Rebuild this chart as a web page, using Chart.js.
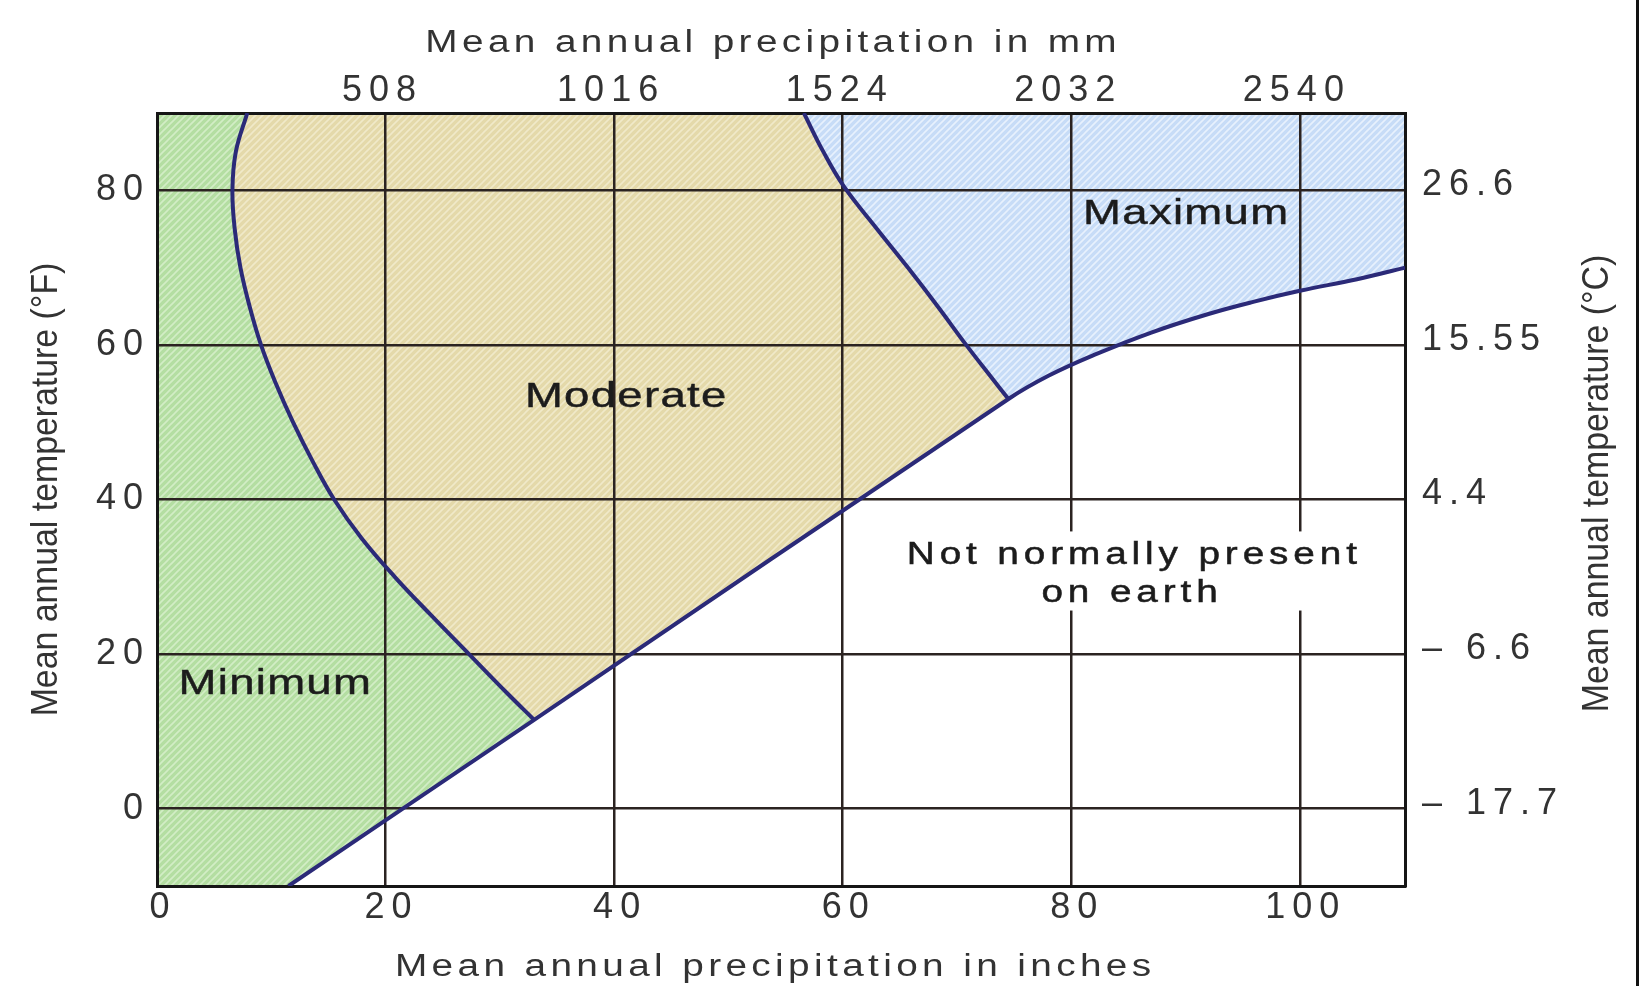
<!DOCTYPE html>
<html>
<head>
<meta charset="utf-8">
<script src="https://cdn.jsdelivr.net/npm/chart.js@4.4.0/dist/chart.umd.min.js"></script>
<style>
  html, body { margin: 0; padding: 0; background: #fff; }
  #wrap { position: relative; width: 1641px; height: 986px; }
  #edge { position: absolute; left: 1636px; top: 0; width: 3px; height: 986px; background: #111; }
</style>
</head>
<body>
<div id="wrap"><canvas id="chart"></canvas><div id="edge"></div></div>
<script>
// ticks: inches / °F, plus the secondary mm / °C labels
const inchTicks = [0, 20, 40, 60, 80, 100];
const mmTicks = [20, 40, 60, 80, 100];
const mmLabels = ['508', '1016', '1524', '2032', '2540'];
const fTicks = [0, 20, 40, 60, 80];
const cLabels = ['\u2013 17.7', '\u2013 6.6', '4.4', '15.55', '26.6'];

const X_MIN = 0, X_MAX = 109.2, Y_MIN = -10, Y_MAX = 90;

// Minimum / Moderate boundary, top to bottom
const minModX = [7.9, 6.9, 6.6, 6.8, 7.3, 8.1, 9.1, 10.4, 11.9, 13.6, 15.5, 17.9, 20.8, 24.0, 27.3, 30.6, 33.0];
const minModY = [90, 85, 80, 75, 70, 65, 60, 55, 50, 45, 40, 35, 30, 25, 20, 15, 11.5];
// lower limit, left to right
const lowerX = [11.5, 33.0, 74.5, 78, 82, 87, 92, 96, 100, 105, 109.2];
const lowerY = [-10, 11.5, 53, 56, 58.7, 61.6, 64, 65.6, 67, 68.5, 70];
// Moderate / Maximum boundary, top to bottom
const modMaxX = [56.6, 58.3, 60.1, 63.0, 65.7, 68.3, 70.8, 72.9, 74.5];
const modMaxY = [90, 85, 80.5, 75, 70, 65, 60, 56, 53];

// zone names and where they sit (centre x, baseline y)
const zoneNames = ['Minimum', 'Moderate', 'Maximum'];
const zoneX = [10.3, 41.0, 90.0];
const zoneY = [14.9, 52.0, 75.6];
const noteLines = ['Not normally present', 'on earth'];
const noteX = [85.3, 85.1];
const noteY = [31.6, 26.8];

const pts = (xs, ys) => xs.map((x, i) => ({ x: x, y: ys[i] }));
const minMod = pts(minModX, minModY);
const lower = pts(lowerX, lowerY);
const modMax = pts(modMaxX, modMaxY);

const minimumZone = [{ x: X_MIN, y: Y_MAX }, ...minMod, ...lower.slice(0, 2).reverse(), { x: X_MIN, y: Y_MIN }];
const moderateZone = [...minMod, ...lower.slice(1, 3), ...modMax.slice().reverse()];
const maximumZone = [...modMax, ...lower.slice(2), { x: X_MAX, y: Y_MAX }];

function hatch(base, stripe) {
    const c = document.createElement('canvas');
    c.width = 7; c.height = 7;
    const g = c.getContext('2d');
    g.fillStyle = base;
    g.fillRect(0, 0, 7, 7);
    g.strokeStyle = stripe;
    g.lineWidth = 1.6;
    g.beginPath();
    g.moveTo(-1, 8); g.lineTo(8, -1);
    g.moveTo(-1, 1); g.lineTo(1, -1);
    g.moveTo(6, 8); g.lineTo(8, 6);
    g.stroke();
    return g.createPattern(c, 'repeat');
}

function zone(data, fillStyle) {
    return {
        data: data, showLine: true, fill: 'shape', backgroundColor: fillStyle,
        borderColor: 'rgba(0,0,0,0)', borderWidth: 0, pointRadius: 0, tension: 0
    };
}
function boundary(data) {
    return {
        data: data, showLine: true, fill: false, borderColor: '#2b2a78',
        borderWidth: 4, pointRadius: 0, tension: 0.4
    };
}

const FONT = '"Liberation Sans", Arial, Helvetica, sans-serif';
const tickFont = { family: FONT, size: 36, lineHeight: 1.2 };
const gridStyle = { color: '#2b2321', lineWidth: 2.5, drawTicks: false };
const borderStyle = { display: true, color: '#161616', width: 3 };

function drawText(ctx, text, x, y, o) {
    ctx.save();
    ctx.font = o.font;
    ctx.letterSpacing = o.spacing + 'px';
    ctx.fillStyle = o.color || '#222';
    ctx.textAlign = 'center';
    ctx.textBaseline = 'alphabetic';
    ctx.translate(x, y);
    if (o.rotate) ctx.rotate(o.rotate);
    ctx.scale(o.sx, 1);
    ctx.fillText(text, o.spacing / 2, 0);
    if (o.weight) {
        ctx.strokeStyle = o.color || '#222';
        ctx.lineWidth = o.weight;
        ctx.strokeText(text, o.spacing / 2, 0);
    }
    ctx.restore();
}

const textPlugin = {
    id: 'chartText',
    beforeDraw(chart) {
        chart.ctx.letterSpacing = '7px';
    },
    afterDatasetsDraw(chart) {
        const ctx = chart.ctx;
        const xs = chart.scales.x, ys = chart.scales.y;
        zoneNames.forEach((name, i) => {
            drawText(ctx, name, xs.getPixelForValue(zoneX[i]), ys.getPixelForValue(zoneY[i]),
                { font: '35px ' + FONT, spacing: 1, sx: 1.3, color: '#1c1c1c', weight: 0.45 });
        });
        // white patch behind the note, it breaks the grid lines
        const font = '31px ' + FONT;
        ctx.save();
        ctx.font = font;
        ctx.letterSpacing = '3.9px';
        const w = ctx.measureText(noteLines[0]).width * 1.25;
        ctx.restore();
        const top = ys.getPixelForValue(noteY[0]) - 33;
        const bottom = ys.getPixelForValue(noteY[1]) + 9;
        const cx = xs.getPixelForValue(noteX[0]);
        ctx.fillStyle = '#fff';
        ctx.fillRect(cx - w / 2 - 6, top, w + 12, bottom - top);
        noteLines.forEach((line, i) => {
            drawText(ctx, line, xs.getPixelForValue(noteX[i]), ys.getPixelForValue(noteY[i]),
                { font: font, spacing: 3.9, sx: 1.25, color: '#1c1c1c', weight: 0.5 });
        });
    },
    afterDraw(chart) {
        const ctx = chart.ctx;
        const a = chart.chartArea;
        const mid = (a.left + a.right) / 2;
        drawText(ctx, 'Mean annual precipitation in mm', mid - 10, a.top - 61,
            { font: '31px ' + FONT, spacing: 3.5, sx: 1.25, color: '#333' });
        drawText(ctx, 'Mean annual precipitation in inches', mid - 8, a.bottom + 90,
            { font: '31px ' + FONT, spacing: 3.5, sx: 1.25, color: '#333' });
        const midY = (a.top + a.bottom) / 2;
        drawText(ctx, 'Mean annual temperature (\u00b0F)', 57, midY - 10,
            { font: '36px ' + FONT, spacing: 0, sx: 0.94, rotate: -Math.PI / 2, color: '#333' });
        drawText(ctx, 'Mean annual temperature (\u00b0C)', 1608, midY - 16,
            { font: '36px ' + FONT, spacing: 0, sx: 0.94, rotate: -Math.PI / 2, color: '#333' });
        ctx.letterSpacing = '0px';
    }
};

const setTicks = list => scale => { scale.ticks = list.map(v => ({ value: v })); };

new Chart(document.getElementById('chart'), {
    type: 'scatter',
    data: {
        datasets: [
            zone(minimumZone, hatch('#b4dea2', 'rgba(235,250,228,0.55)')),
            zone(moderateZone, hatch('#e4d9aa', 'rgba(250,246,225,0.55)')),
            zone(maximumZone, hatch('#c7dcf7', 'rgba(245,250,255,0.7)')),
            boundary(minMod),
            boundary(lower),
            boundary(modMax)
        ]
    },
    options: {
        responsive: true,
        maintainAspectRatio: false,
        animation: false,
        events: [],
        layout: { padding: 0 },
        plugins: {
            legend: { display: false },
            tooltip: { enabled: false },
            filler: { drawTime: 'beforeDraw' }
        },
        scales: {
            x: {
                type: 'linear', position: 'bottom', min: X_MIN, max: X_MAX,
                afterBuildTicks: setTicks(inchTicks),
                afterFit: s => { s.height = 100; },
                ticks: { font: tickFont, color: '#333', padding: 0, labelOffset: 6, autoSkip: false, maxRotation: 0 },
                grid: gridStyle, border: borderStyle
            },
            x2: {
                type: 'linear', axis: 'x', position: 'top', min: X_MIN, max: X_MAX,
                afterBuildTicks: setTicks(mmTicks),
                afterFit: s => { s.height = 113; },
                ticks: { font: tickFont, color: '#333', padding: 0, labelOffset: -3, autoSkip: false, maxRotation: 0,
                    callback: (v, i) => mmLabels[i] },
                grid: { display: false, drawTicks: false }, border: borderStyle
            },
            y: {
                type: 'linear', position: 'left', min: Y_MIN, max: Y_MAX,
                afterBuildTicks: setTicks(fTicks),
                afterFit: s => { s.width = 157; },
                ticks: { font: tickFont, color: '#333', padding: 7, autoSkip: false },
                grid: gridStyle, border: borderStyle
            },
            y2: {
                type: 'linear', axis: 'y', position: 'right', min: Y_MIN, max: Y_MAX,
                afterBuildTicks: setTicks(fTicks),
                afterFit: s => { s.width = 236; },
                ticks: { font: tickFont, color: '#333', padding: 17, labelOffset: -5, autoSkip: false,
                    callback: (v, i) => cLabels[i] },
                grid: { display: false, drawTicks: false }, border: borderStyle
            }
        }
    },
    plugins: [textPlugin]
});
</script>
</body>
</html>
